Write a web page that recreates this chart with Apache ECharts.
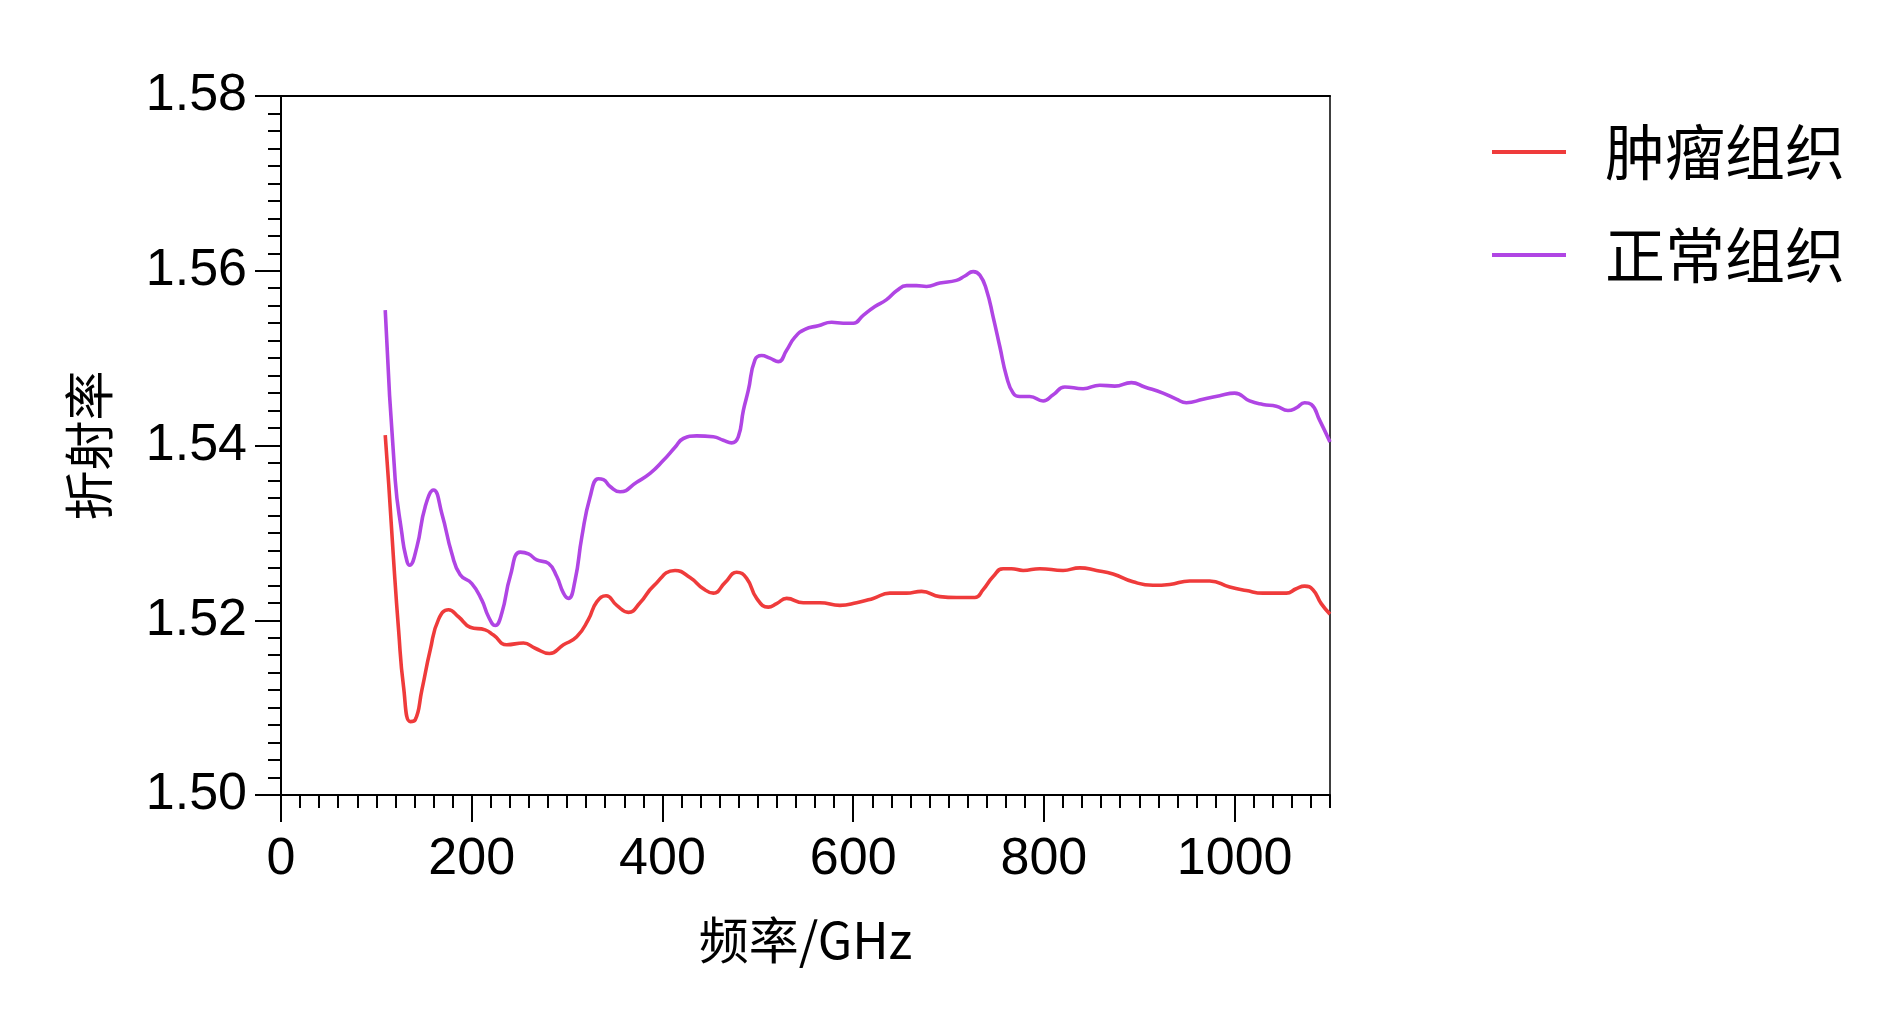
<!DOCTYPE html>
<html>
<head>
<meta charset="utf-8">
<script src="https://cdn.jsdelivr.net/npm/echarts@6/dist/echarts.min.js"></script>
<style>
  html, body { margin: 0; padding: 0; background: #fff; }
  #chart { width: 1890px; height: 1022px; }
</style>
</head>
<body>
<div id="chart"></div>
<script>
// 肿瘤组织
const tumorFreq = [109.3, 113, 118, 123.3, 128.5, 135.5, 140.7, 147.7, 156.5, 165.2, 175.7, 186.1, 198.4, 214.1, 222.8, 236.8, 254.3, 266.5, 281.5, 296.2, 310.1, 322.4, 331.1, 340.9, 352.1, 364.3, 376.5, 390.5, 413.2, 428.9, 442.9, 453.4, 465.6, 477.8, 488.3, 498.8, 511, 519.7, 530.2, 547.7, 565.1, 586.1, 603.6, 621, 638.5, 655.9, 671.7, 690.9, 708.3, 727.6, 736.3, 746.8, 757.2, 766, 778.2, 795.7, 820.1, 837.6, 855.1, 872.5, 893.5, 914.4, 931.9, 952.9, 973.8, 994.8, 1012.2, 1029.7, 1054.2, 1064.6, 1073.4, 1082.1, 1090.8, 1100]
const tumorIdx = [1.5412, 1.5355, 1.527, 1.5189, 1.5124, 1.5084, 1.5086, 1.512, 1.5166, 1.5201, 1.5212, 1.5204, 1.5192, 1.5189, 1.5183, 1.5172, 1.5174, 1.5168, 1.5162, 1.5172, 1.5181, 1.5201, 1.5221, 1.5228, 1.5217, 1.5209, 1.522, 1.5239, 1.5257, 1.5249, 1.5236, 1.5231, 1.5243, 1.5255, 1.5248, 1.5225, 1.5215, 1.5219, 1.5225, 1.522, 1.522, 1.5217, 1.522, 1.5225, 1.5231, 1.5231, 1.5233, 1.5227, 1.5226, 1.5226, 1.5235, 1.525, 1.5259, 1.5259, 1.5257, 1.5259, 1.5257, 1.526, 1.5257, 1.5253, 1.5244, 1.524, 1.5241, 1.5245, 1.5245, 1.5238, 1.5234, 1.5231, 1.5231, 1.5236, 1.5239, 1.5235, 1.5219, 1.5207]

// 正常组织
const normalFreq = [109.3, 119.8, 126.8, 130.5, 134.8, 142.5, 151.2, 160, 168.7, 179.2, 187.9, 200.1, 210.6, 217.6, 224.6, 231.5, 240.3, 250.8, 259.5, 268.2, 280.5, 289.2, 296.2, 301.4, 308.4, 315.4, 324.1, 332.8, 338.1, 345.1, 355.5, 373, 387, 401, 413.2, 421.9, 435.9, 453.3, 463.8, 472.5, 479.5, 484.8, 490, 497, 504, 512.7, 521.5, 530.2, 538.9, 549.4, 563.4, 577.4, 589.6, 600.1, 610.5, 622.8, 635, 645.5, 656, 666.4, 676.9, 690.9, 708.3, 717.1, 725.8, 732.8, 739.8, 746.8, 753.8, 760.8, 767.7, 774.7, 785.2, 799.2, 809.7, 821.9, 841.1, 858.6, 874.3, 891.7, 905.7, 924.9, 938.9, 949.4, 966.8, 984.3, 1000, 1015.7, 1029.7, 1043.7, 1055.9, 1064.6, 1073.4, 1080.4, 1089.1, 1100]
const normalIdx = [1.5555, 1.536, 1.5299, 1.5275, 1.5263, 1.5284, 1.533, 1.5349, 1.5322, 1.5276, 1.5252, 1.5242, 1.5223, 1.5204, 1.5194, 1.5208, 1.525, 1.5278, 1.5276, 1.5269, 1.5265, 1.525, 1.5231, 1.5225, 1.5246, 1.5295, 1.5341, 1.5362, 1.5361, 1.5353, 1.5347, 1.5358, 1.5368, 1.5383, 1.5398, 1.5408, 1.5411, 1.541, 1.5406, 1.5403, 1.541, 1.544, 1.5463, 1.5498, 1.5503, 1.55, 1.5496, 1.5509, 1.5524, 1.5533, 1.5537, 1.5541, 1.554, 1.554, 1.5549, 1.5559, 1.5567, 1.5577, 1.5583, 1.5583, 1.5582, 1.5586, 1.5589, 1.5594, 1.5599, 1.5595, 1.5578, 1.5547, 1.5513, 1.5479, 1.546, 1.5456, 1.5456, 1.5451, 1.5458, 1.5467, 1.5465, 1.5469, 1.5468, 1.5472, 1.5467, 1.546, 1.5453, 1.5449, 1.5453, 1.5457, 1.546, 1.5451, 1.5447, 1.5445, 1.544, 1.5443, 1.5449, 1.5447, 1.5429, 1.5404]

const xMajorTicks = [0, 200, 400, 600, 800, 1000]
const seriesNames = ['肿瘤组织', '正常组织']

const zip = (xs, ys) => xs.map((x, i) => [x, ys[i]])

const numFont = 'Liberation Sans, Arial, sans-serif'
const cjkFont = 'Noto Sans CJK SC, sans-serif'
const black = '#000'

const chart = echarts.init(document.getElementById('chart'), null, { renderer: 'canvas' })

const option = {
  backgroundColor: '#fff',
  animation: false,
  color: ['#EF3B3B', '#B045E4'],
  grid: {
    left: 281,
    top: 96,
    width: 1049,
    height: 699,
  },
  legend: {
    orient: 'vertical',
    left: 1487,
    top: 117,
    itemGap: 43,
    itemWidth: 74,
    itemHeight: 4,
    icon: 'rect',
    textStyle: {
      fontFamily: cjkFont,
      fontSize: 60,
      color: black,
      padding: [0, 0, 0, 34],
    },
    data: seriesNames,
  },
  xAxis: [
    {
      // minor ticks + labels
      type: 'value',
      position: 'bottom',
      min: 0,
      max: 1100,
      interval: 20,
      axisLine: { show: true, lineStyle: { color: black, width: 2 } },
      axisTick: { show: true, inside: false, length: 13, lineStyle: { color: black, width: 2 } },
      axisLabel: {
        customValues: xMajorTicks,
        margin: 39,
        fontFamily: numFont,
        fontSize: 52,
        color: black,
        formatter: (v) => String(v),
      },
      splitLine: { show: false },
      name: '频率/GHz',
      nameLocation: 'middle',
      nameGap: 120,
      nameTextStyle: { fontFamily: cjkFont, fontSize: 50, color: black },
    },
    {
      // major ticks
      type: 'value',
      position: 'bottom',
      min: 0,
      max: 1100,
      axisLine: { show: false },
      axisTick: {
        show: true,
        inside: false,
        length: 27,
        customValues: xMajorTicks,
        lineStyle: { color: black, width: 2 },
      },
      axisLabel: { show: false },
      splitLine: { show: false },
    },
    {
      // top frame
      type: 'value',
      position: 'top',
      min: 0,
      max: 1100,
      axisLine: { show: true, onZero: false, lineStyle: { color: black, width: 2 } },
      axisTick: { show: false },
      axisLabel: { show: false },
      splitLine: { show: false },
    },
  ],
  yAxis: [
    {
      type: 'value',
      position: 'left',
      min: 1.5,
      max: 1.58,
      interval: 0.02,
      axisLine: { show: true, onZero: false, lineStyle: { color: black, width: 2 } },
      axisTick: { show: true, inside: false, length: 26, lineStyle: { color: black, width: 2 } },
      minorTick: { show: true, splitNumber: 10, length: 13, lineStyle: { color: black, width: 2 } },
      axisLabel: {
        margin: 34,
        fontFamily: numFont,
        fontSize: 52,
        color: black,
        formatter: (v) => v.toFixed(2),
      },
      splitLine: { show: false },
      minorSplitLine: { show: false },
      name: '折射率',
      nameLocation: 'middle',
      nameGap: 167,
      nameTextStyle: { fontFamily: cjkFont, fontSize: 50, color: black },
    },
    {
      // right frame
      type: 'value',
      position: 'right',
      min: 1.5,
      max: 1.58,
      axisLine: { show: true, onZero: false, lineStyle: { color: black, width: 1.5 } },
      axisTick: { show: false },
      axisLabel: { show: false },
      splitLine: { show: false },
    },
  ],
  series: [
    {
      name: seriesNames[0],
      type: 'line',
      xAxisIndex: 0,
      yAxisIndex: 0,
      data: zip(tumorFreq, tumorIdx),
      showSymbol: false,
      smooth: 0.5,
      lineStyle: { width: 3.6 },
    },
    {
      name: seriesNames[1],
      type: 'line',
      xAxisIndex: 0,
      yAxisIndex: 0,
      data: zip(normalFreq, normalIdx),
      showSymbol: false,
      smooth: 0.5,
      lineStyle: { width: 3.6 },
    },
  ],
}

chart.setOption(option)
</script>
</body>
</html>
